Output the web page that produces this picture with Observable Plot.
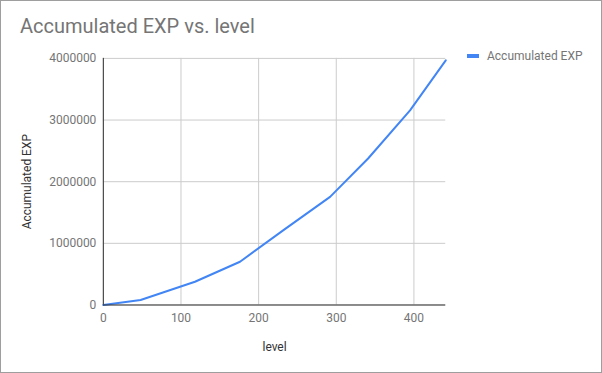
<!DOCTYPE html>
<html>
<head>
<meta charset="utf-8">
<script src="https://cdn.jsdelivr.net/npm/d3@7"></script>
<script src="https://cdn.jsdelivr.net/npm/@observablehq/plot@0.6"></script>
<style>
  html, body { margin: 0; padding: 0; background: #fff; }
  #wrap { position: relative; width: 600px; height: 371px; border: 1px solid #9e9e9e; overflow: hidden; font-family: Roboto, sans-serif; }
  #chart { position: absolute; left: -1px; top: -1px; }
  #title { position: absolute; left: 19px; top: 13px; font-size: 20px; color: #757575; white-space: nowrap; }
  #legend { position: absolute; left: 466px; top: 48px; font-size: 12px; color: #757575; white-space: nowrap; display: flex; align-items: center; }
  #legend .sw { width: 12px; height: 4px; background: #4285f4; margin-right: 8px; }
</style>
</head>
<body>
<div id="wrap">
  <div id="chart"></div>
  <div id="title">Accumulated EXP vs. level</div>
  <div id="legend"><span class="sw"></span><span>Accumulated EXP</span></div>
</div>
<script>
const levels = [0, 48, 118, 176, 232, 292, 341, 395, 441];
const accumulatedExp = [0, 81000, 377000, 701000, 1215000, 1754000, 2376000, 3158000, 3968000];
const xTicks = [0, 100, 200, 300, 400];
const yTicks = [0, 1000000, 2000000, 3000000, 4000000];
const seriesName = "Accumulated EXP";
const xLabel = "level";
const yLabel = "Accumulated EXP";

const data = levels.map((l, i) => ({level: l, exp: accumulatedExp[i]}));

const chart = Plot.plot({
  width: 602,
  height: 373,
  marginLeft: 103,
  marginRight: 156,
  marginTop: 58,
  marginBottom: 68,
  style: {fontFamily: "Roboto, sans-serif", fontSize: "12px", color: "#757575", background: "transparent"},
  x: {domain: [0, 441], ticks: xTicks, tickSize: 0, tickPadding: 9, tickFormat: d => String(d), label: null},
  y: {domain: [0, 4000000], ticks: yTicks, tickSize: 0, tickPadding: 7, tickFormat: d => String(d), label: null},
  marks: [
    Plot.gridX(xTicks, {stroke: "#cccccc", strokeOpacity: 1}),
    Plot.gridY(yTicks, {stroke: "#cccccc", strokeOpacity: 1}),
    Plot.line(data, {x: "level", y: "exp", stroke: "#4285f4", strokeWidth: 2}),
    Plot.ruleX([0], {stroke: "#333333"}),
    Plot.ruleY([0], {stroke: "#333333"}),
    Plot.text([xLabel], {frameAnchor: "bottom", lineAnchor: "middle", dy: 42, text: d => d, fill: "#333333", fontSize: 12}),
    Plot.text([yLabel], {frameAnchor: "left", textAnchor: "middle", lineAnchor: "middle", dx: -76, rotate: -90, text: d => d, fill: "#333333", fontSize: 12})
  ]
});
document.getElementById("chart").appendChild(chart);
</script>
</body>
</html>
